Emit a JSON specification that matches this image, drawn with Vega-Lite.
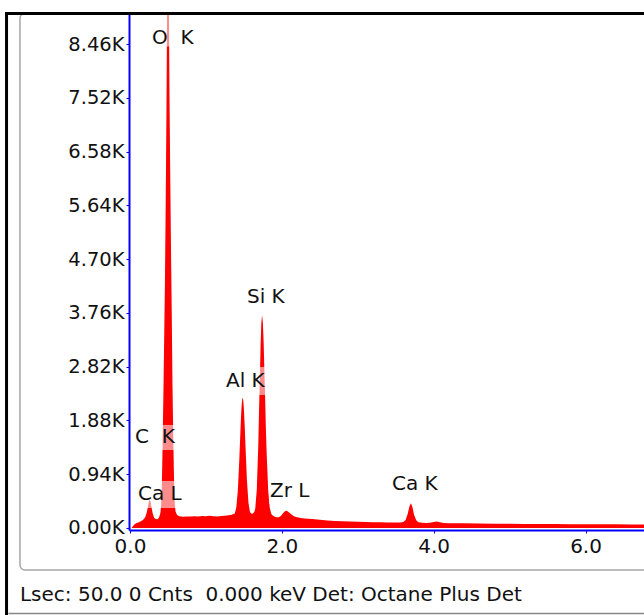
{
  "$schema": "https://vega.github.io/schema/vega-lite/v6.json",
  "width": 515,
  "height": 516,
  "autosize": {"type": "none"},
  "padding": {"left": 129, "top": 14, "right": 0, "bottom": 85},
  "background": "#ffffff",
  "config": {"view": {"stroke": null}, "font": "DejaVu Sans", "axis": {"grid": false}},
  "datasets": {
    "spectrum": [
      {"keV":0.00,"counts":0},{"keV":0.02,"counts":0},{"keV":0.04,"counts":35},{"keV":0.06,"counts":66},
      {"keV":0.08,"counts":81},{"keV":0.10,"counts":91},{"keV":0.12,"counts":101},{"keV":0.14,"counts":116},
      {"keV":0.16,"counts":131},{"keV":0.18,"counts":151},{"keV":0.20,"counts":186},{"keV":0.22,"counts":267},
      {"keV":0.24,"counts":398},{"keV":0.25,"counts":468},{"keV":0.26,"counts":494},{"keV":0.27,"counts":468},
      {"keV":0.28,"counts":388},{"keV":0.30,"counts":247},{"keV":0.32,"counts":176},{"keV":0.34,"counts":156},
      {"keV":0.36,"counts":151},{"keV":0.38,"counts":176},{"keV":0.40,"counts":257},{"keV":0.41,"counts":388},
      {"keV":0.42,"counts":770},{"keV":0.43,"counts":1475},{"keV":0.44,"counts":2331},{"keV":0.45,"counts":3287},
      {"keV":0.46,"counts":4244},{"keV":0.47,"counts":5603},{"keV":0.48,"counts":7214},{"keV":0.49,"counts":9328},
      {"keV":0.50,"counts":11040},{"keV":0.51,"counts":9630},{"keV":0.52,"counts":7617},{"keV":0.53,"counts":6207},
      {"keV":0.54,"counts":4898},{"keV":0.55,"counts":3791},{"keV":0.56,"counts":2482},{"keV":0.57,"counts":1576},
      {"keV":0.58,"counts":871},{"keV":0.59,"counts":418},{"keV":0.60,"counts":287},{"keV":0.62,"counts":227},
      {"keV":0.65,"counts":205},{"keV":0.70,"counts":195},{"keV":0.75,"counts":199},{"keV":0.80,"counts":203},
      {"keV":0.85,"counts":207},{"keV":0.90,"counts":203},{"keV":0.95,"counts":209},{"keV":1.00,"counts":207},
      {"keV":1.05,"counts":213},{"keV":1.10,"counts":207},{"keV":1.15,"counts":203},{"keV":1.20,"counts":209},
      {"keV":1.25,"counts":215},{"keV":1.30,"counts":222},{"keV":1.34,"counts":232},{"keV":1.38,"counts":254},
      {"keV":1.40,"counts":358},{"keV":1.42,"counts":647},{"keV":1.44,"counts":1199},{"keV":1.46,"counts":1875},
      {"keV":1.47,"counts":2135},{"keV":1.48,"counts":2271},{"keV":1.49,"counts":2256},{"keV":1.50,"counts":2091},
      {"keV":1.51,"counts":1811},{"keV":1.52,"counts":1474},{"keV":1.54,"counts":837},{"keV":1.56,"counts":444},
      {"keV":1.58,"counts":280},{"keV":1.60,"counts":247},{"keV":1.62,"counts":252},{"keV":1.64,"counts":287},
      {"keV":1.65,"counts":343},{"keV":1.67,"counts":670},{"keV":1.69,"counts":1455},{"keV":1.70,"counts":2079},
      {"keV":1.71,"counts":2583},{"keV":1.72,"counts":3187},{"keV":1.73,"counts":3589},{"keV":1.74,"counts":3720},
      {"keV":1.75,"counts":3589},{"keV":1.76,"counts":3267},{"keV":1.77,"counts":2764},{"keV":1.78,"counts":2281},
      {"keV":1.79,"counts":1727},{"keV":1.80,"counts":1314},{"keV":1.82,"counts":670},{"keV":1.84,"counts":358},
      {"keV":1.86,"counts":247},{"keV":1.88,"counts":217},{"keV":1.90,"counts":199},{"keV":1.93,"counts":189},
      {"keV":1.96,"counts":186},{"keV":1.99,"counts":212},{"keV":2.02,"counts":267},{"keV":2.05,"counts":302},
      {"keV":2.07,"counts":297},{"keV":2.10,"counts":267},{"keV":2.13,"counts":232},{"keV":2.16,"counts":207},
      {"keV":2.20,"counts":189},{"keV":2.25,"counts":176},{"keV":2.30,"counts":166},{"keV":2.40,"counts":156},
      {"keV":2.50,"counts":144},{"keV":2.60,"counts":131},{"keV":2.70,"counts":124},{"keV":2.80,"counts":118},
      {"keV":2.90,"counts":114},{"keV":3.00,"counts":111},{"keV":3.10,"counts":106},{"keV":3.20,"counts":102},
      {"keV":3.30,"counts":99},{"keV":3.40,"counts":96},{"keV":3.50,"counts":94},{"keV":3.56,"counts":96},
      {"keV":3.60,"counts":106},{"keV":3.63,"counts":141},{"keV":3.66,"counts":257},{"keV":3.68,"counts":378},
      {"keV":3.70,"counts":431},{"keV":3.72,"counts":368},{"keV":3.74,"counts":237},{"keV":3.77,"counts":136},
      {"keV":3.80,"counts":101},{"keV":3.85,"counts":91},{"keV":3.90,"counts":88},{"keV":3.95,"counts":91},
      {"keV":4.00,"counts":106},{"keV":4.04,"counts":114},{"keV":4.08,"counts":101},{"keV":4.13,"counts":86},
      {"keV":4.20,"counts":84},{"keV":4.40,"counts":81},{"keV":4.60,"counts":78},{"keV":4.80,"counts":76},
      {"keV":5.00,"counts":74},{"keV":5.20,"counts":72},{"keV":5.40,"counts":70},{"keV":5.60,"counts":69},
      {"keV":5.80,"counts":67},{"keV":6.00,"counts":66},{"keV":6.20,"counts":65},{"keV":6.40,"counts":64},
      {"keV":6.60,"counts":63},{"keV":6.80,"counts":62},{"keV":7.00,"counts":61}
    ],
    "labels": [
      {"label":"O\u00a0\u00a0K","e":0.29,"c":8564,"e1":0.26,"e2":0.92,"c1":8420,"c2":9010},
      {"label":"C\u00a0\u00a0K","e":0.066,"c":1590,"e1":0.04,"e2":0.66,"c1":1364,"c2":1801},
      {"label":"Ca L","e":0.105,"c":594,"e1":0.079,"e2":0.685,"c1":350,"c2":822},
      {"label":"Al K","e":1.264,"c":2570,"e1":1.238,"e2":1.844,"c1":2325,"c2":2815},
      {"label":"Si K","e":1.541,"c":4038,"e1":1.515,"e2":2.068,"c1":3811,"c2":4266},
      {"label":"Zr L","e":1.844,"c":647,"e1":1.83,"e2":2.371,"c1":420,"c2":874},
      {"label":"Ca K","e":3.451,"c":769,"e1":3.424,"e2":4.083,"c1":542,"c2":996}
    ]
  },
  "layer": [
    {
      "data": {"values": [{}]},
      "mark": {"type": "rect", "fill": "transparent", "stroke": "#a6a6a6", "strokeWidth": 1.5, "cornerRadius": 5, "clip": false},
      "encoding": {
        "x": {"datum": -1.449, "type": "quantitative"},
        "x2": {"datum": 8.2},
        "y": {"datum": -734, "type": "quantitative"},
        "y2": {"datum": 8994}
      }
    },
    {
      "data": {"name": "spectrum"},
      "mark": {"type": "area", "color": "#ff0000", "clip": true},
      "encoding": {
        "x": {
          "field": "keV", "type": "quantitative",
          "scale": {"domain": [-0.013, 6.77], "nice": false, "zero": false},
          "axis": {
            "values": [0, 2, 4, 6], "format": ".1f", "title": null,
            "domainColor": "#0000ff", "domainWidth": 2, "tickColor": "#0000ff", "tickSize": 3, "tickWidth": 1,
            "labelFontSize": 20, "labelFont": "DejaVu Sans", "labelColor": "#111111", "labelPadding": 3,
            "labelFlush": false, "labelOverlap": false, "labelBound": false, "grid": false
          }
        },
        "y": {
          "field": "counts", "type": "quantitative",
          "scale": {"domain": [-35, 8986], "nice": false, "zero": false},
          "axis": {
            "values": [0, 940, 1880, 2820, 3760, 4700, 5640, 6580, 7520, 8460],
            "labelExpr": "format(datum.value / 1000, '.2f') + 'K'", "title": null,
            "domainColor": "#0000ff", "domainWidth": 2, "tickColor": "#0000ff", "tickSize": 3, "tickWidth": 1,
            "labelFontSize": 19.5, "labelFont": "DejaVu Sans", "labelColor": "#111111", "labelPadding": 2,
            "labelFlush": false, "labelOverlap": false, "labelBound": false, "grid": false
          }
        },
        "y2": {"datum": 0}
      }
    },
    {
      "data": {"name": "labels"},
      "mark": {"type": "rect", "color": "#ffffff", "opacity": 0.55},
      "encoding": {
        "x": {"field": "e1", "type": "quantitative", "title": null},
        "x2": {"field": "e2"},
        "y": {"field": "c1", "type": "quantitative", "title": null},
        "y2": {"field": "c2"}
      }
    },
    {
      "data": {"name": "labels"},
      "mark": {"type": "text", "align": "left", "baseline": "middle", "fontSize": 20, "font": "DejaVu Sans", "color": "#111111"},
      "encoding": {
        "x": {"field": "e", "type": "quantitative", "title": null},
        "y": {"field": "c", "type": "quantitative", "title": null},
        "text": {"field": "label"}
      }
    },
    {
      "data": {"values": [{}]},
      "mark": {"type": "text", "align": "left", "baseline": "middle", "fontSize": 20, "font": "DejaVu Sans", "color": "#111111", "text": "Lsec: 50.0 0 Cnts\u00a0\u00a00.000 keV Det: Octane Plus Det"},
      "encoding": {
        "x": {"datum": -1.449, "type": "quantitative"},
        "y": {"datum": -1171, "type": "quantitative"}
      }
    },
    {
      "data": {"values": [{}]},
      "mark": {"type": "rule", "color": "#888888", "strokeWidth": 1.5, "clip": false},
      "encoding": {
        "x": {"datum": -1.6, "type": "quantitative"},
        "x2": {"datum": 8.2},
        "y": {"datum": -1495, "type": "quantitative"}
      }
    },
    {
      "data": {"values": [{}]},
      "mark": {"type": "rule", "color": "#000000", "strokeWidth": 3, "clip": false},
      "encoding": {
        "x": {"datum": -1.626, "type": "quantitative"},
        "y": {"datum": -1560, "type": "quantitative"},
        "y2": {"datum": 9020}
      }
    },
    {
      "data": {"values": [{}]},
      "mark": {"type": "rule", "color": "#000000", "strokeWidth": 3, "clip": false},
      "encoding": {
        "x": {"datum": -1.646, "type": "quantitative"},
        "x2": {"datum": 8.2},
        "y": {"datum": 8994.7, "type": "quantitative"}
      }
    }
  ]
}
